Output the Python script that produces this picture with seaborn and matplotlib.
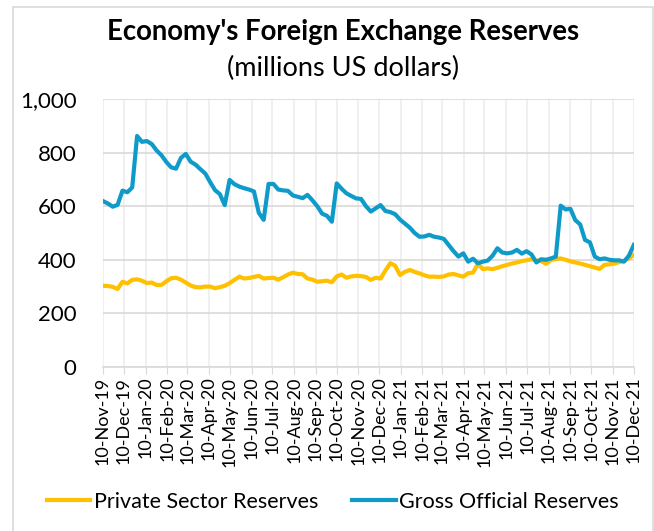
import numpy as np
import pandas as pd
import seaborn as sns
import matplotlib.pyplot as plt
from matplotlib.patches import Rectangle

# weekly readings, 10-Nov-19 .. 10-Dec-21 (millions US dollars)
private_sector = [
    303, 302, 299, 291, 318, 312, 325, 327, 322, 313,
    315, 306, 306, 320, 331, 333, 326, 315, 304, 298,
    297, 300, 300, 294, 298, 303, 313, 325, 337, 330,
    332, 336, 340, 330, 332, 333, 326, 335, 345, 352,
    347, 346, 330, 326, 318, 320, 322, 316, 338, 345,
    333, 338, 340, 339, 336, 325, 333, 330, 360, 387,
    378, 343, 355, 362, 355, 349, 342, 337, 337, 336,
    338, 345, 347, 342, 337, 350, 352, 385, 365, 368,
    365, 370, 376, 381, 386, 390, 395, 398, 402, 398,
    395, 385, 399, 403, 405, 400, 394, 390, 386, 381,
    376, 371, 366, 381, 383, 386, 391, 396, 405, 418,
]
gross_official = [
    619, 610, 598, 605, 658, 652, 670, 862, 840, 843,
    832, 808, 790, 765, 745, 740, 780, 795, 766, 755,
    738, 722, 690, 660, 645, 604, 698, 682, 673, 667,
    662, 655, 575, 549, 683, 683, 662, 659, 657, 640,
    635, 630, 642, 622, 600, 572, 564, 542, 685, 665,
    648, 638, 629, 627, 600, 580, 592, 604, 582, 578,
    570, 550, 535, 520, 500, 486, 487, 493, 486, 483,
    478, 455, 432, 412, 424, 393, 404, 387, 393, 397,
    415, 443, 427, 424, 427, 437, 423, 432, 420, 390,
    402, 400, 405, 412, 602, 588, 590, 548, 532, 474,
    465, 412, 402, 405, 400, 398, 398, 393, 415, 455,
]
series_names = ["Private Sector Reserves", "Gross Official Reserves"]
series_colors = ["#FFC000", "#0F9BC9"]

start, end = pd.Timestamp("2019-11-10"), pd.Timestamp("2021-12-10")
dates = pd.date_range(start, end, periods=len(gross_official))

df = pd.DataFrame({
    "date": list(dates) * 2,
    "value": private_sector + gross_official,
    "series": [series_names[0]] * len(dates) + [series_names[1]] * len(dates),
})

plt.rcParams["font.family"] = ["Lato", "DejaVu Sans"]
fig = plt.figure(figsize=(6.54, 5.31), dpi=100)
ax = fig.add_axes([0.1575, 0.3089, 0.8115, 0.5047])

sns.lineplot(data=df, x="date", y="value", hue="series", hue_order=series_names,
             palette=series_colors, linewidth=3.0, ax=ax, legend=False)

# gray chart border
fig.patches.append(Rectangle((13 / 654, -0.05), 640 / 654, 1 - 7 / 531 + 0.05,
                             transform=fig.transFigure, fill=False,
                             edgecolor="#D9D9D9", linewidth=1.2))

ax.set_xlim(start, end)
ax.set_ylim(0, 1000)
ax.set_yticks(np.arange(0, 1001, 200))
ax.set_yticklabels([f"{v:,}" for v in range(0, 1001, 200)], fontsize=16)

month_ticks = pd.date_range(start, end, freq=pd.DateOffset(months=1))
ax.set_xticks(month_ticks)
ax.set_xticklabels([d.strftime("%d-%b-%y") for d in month_ticks],
                   rotation=90, fontsize=13)

ax.grid(True, color="#D9D9D9", linewidth=1.2)
ax.grid(True, axis="x", color="#EDEDED", linewidth=1.2)
ax.set_axisbelow(True)
for s in ["left", "right", "top"]:
    ax.spines[s].set_visible(False)
ax.spines["bottom"].set_color("#D9D9D9")
ax.spines["bottom"].set_linewidth(1.2)
ax.tick_params(axis="x", length=5, color="#D9D9D9", pad=2)
ax.tick_params(axis="y", length=0, pad=19)
ax.set_xlabel("")
ax.set_ylabel("")

fig.text(0.524, 1 - 32 / 531, "Economy's Foreign Exchange Reserves",
         ha="center", va="center", fontsize=19.8, fontweight="bold")
fig.text(0.524, 1 - 68 / 531, "(millions US dollars)",
         ha="center", va="center", fontsize=19.5)

handles = [plt.Line2D([], [], color=c, linewidth=3.0) for c in series_colors]
fig.legend(handles, series_names, loc="center", bbox_to_anchor=(0.509, 1 - 502 / 531),
           ncol=2, frameon=False, fontsize=15.5, handlelength=2.0,
           handletextpad=0.15, columnspacing=1.6)

fig.savefig("out.png", dpi=100)
